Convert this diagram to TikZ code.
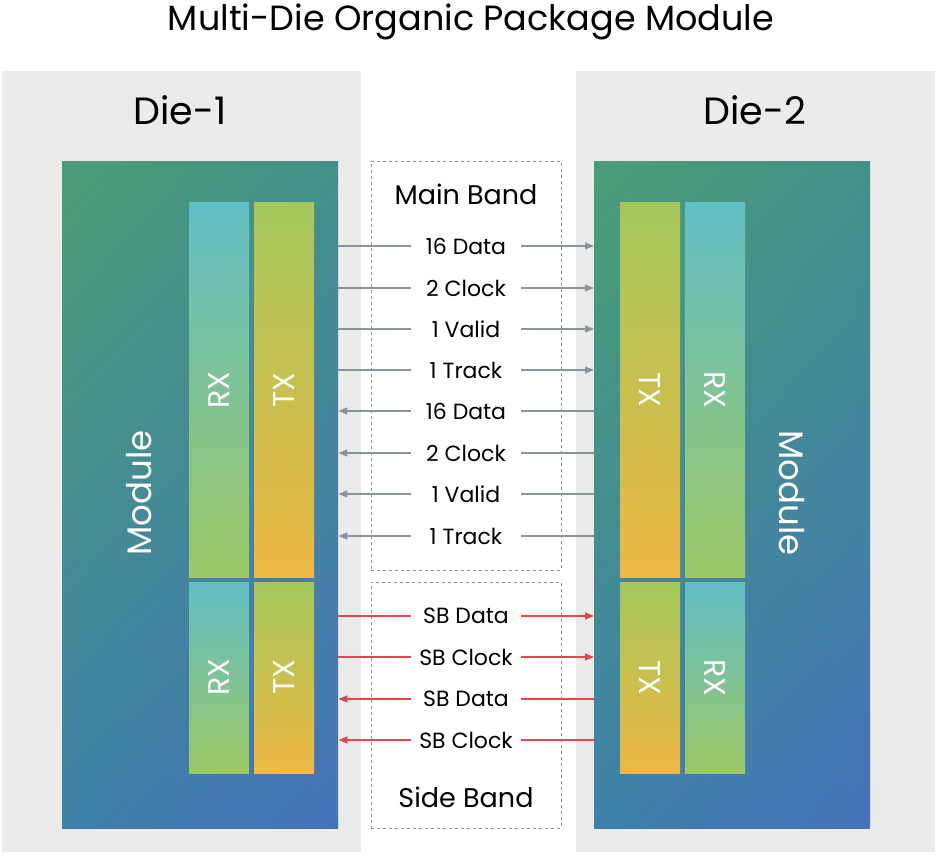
\documentclass[tikz,border=0pt]{standalone}
\usepackage{graphicx}
\usepackage{fontspec}
\setmainfont{Poppins}
\usepackage{xcolor}
\usetikzlibrary{arrows.meta,shadings}
\definecolor{panel}{HTML}{EBEBEA}
\definecolor{sigc}{HTML}{8C949B}
\definecolor{sbc}{HTML}{E4464B}
\definecolor{modul}{RGB}{74,158,116}
\definecolor{modur}{RGB}{67,145,138}
\definecolor{modll}{RGB}{63,128,168}
\definecolor{modlr}{RGB}{68,114,185}
\definecolor{rxtop}{RGB}{99,190,197}
\definecolor{rxbot}{RGB}{156,200,102}
\definecolor{txtop}{RGB}{165,200,91}
\definecolor{txbot}{RGB}{238,184,67}
\tikzset{
  die/.style={fill=panel,draw=none,inner sep=0,anchor=north west,minimum width=359pt,minimum height=781pt},
  mod/.style={inner sep=0,anchor=north west,minimum width=276pt,minimum height=667pt,
    upper left=modul,upper right=modur,lower left=modll,lower right=modlr},
  rx/.style={inner sep=0,minimum width=60pt,text=white,top color=rxtop,bottom color=rxbot},
  tx/.style={inner sep=0,minimum width=60pt,text=white,top color=txtop,bottom color=txbot},
  band/.style={draw=gray!85,dash pattern=on 3pt off 3pt,line width=0.8pt,anchor=north west,minimum width=190pt,inner sep=0},
  lbl/.style={inner sep=0,minimum width=110pt,font=\fontsize{22}{26}\selectfont},
  sig/.style={draw=sigc,line width=1.4pt},
  sb/.style={draw=sbc,line width=1.4pt},
  tip/.style={-{Triangle[length=9pt,width=7pt]}}
}
\begin{document}
\begin{tikzpicture}[x=1pt,y=-1pt]
\useasboundingbox (0,0) rectangle (938,856);
\node[font=\fontsize{35}{40}\selectfont] (title) at (471,22) {Multi-Die Organic Package Module};
% dies
\node[die] (die1) at (2,71) {};
\node[die] (die2) at (576,71) {};
\node[font=\fontsize{38}{44}\selectfont] (n1) at (180,110) {Die-1};
\node[font=\fontsize{38}{44}\selectfont] (n2) at (755,110) {Die-2};
% modules
\node[mod] (m1) at (62,161) {};
\node[mod] (m2) at (594,161) {};
\node[text=white,font=\fontsize{34}{40}\selectfont] (t1) at (139,493) {\rotatebox{90}{Module}};
\node[text=white,font=\fontsize{34}{40}\selectfont] (t2) at (792,493) {\rotatebox{-90}{Module}};
% lanes, die-1
\node[rx,minimum height=374pt,font=\fontsize{30}{36}\selectfont] (rx1) at (219,390) {\rotatebox{90}{RX}};
\node[tx,minimum height=374pt,font=\fontsize{30}{36}\selectfont] (tx1) at (284,390) {\rotatebox{90}{TX}};
\node[rx,minimum height=191pt,font=\fontsize{30}{36}\selectfont] (srx1) at (219,677.5) {\rotatebox{90}{RX}};
\node[tx,minimum height=191pt,font=\fontsize{30}{36}\selectfont] (stx1) at (284,677.5) {\rotatebox{90}{TX}};
% lanes, die-2
\node[tx,minimum height=374pt,font=\fontsize{30}{36}\selectfont] (tx2) at (650,390) {\rotatebox{-90}{TX}};
\node[rx,minimum height=374pt,font=\fontsize{30}{36}\selectfont] (rx2) at (715,390) {\rotatebox{-90}{RX}};
\node[tx,minimum height=191pt,font=\fontsize{30}{36}\selectfont] (stx2) at (650,677.5) {\rotatebox{-90}{TX}};
\node[rx,minimum height=191pt,font=\fontsize{30}{36}\selectfont] (srx2) at (715,677.5) {\rotatebox{-90}{RX}};
% bands
\node[band,minimum height=409pt] (mb) at (371,161) {};
\node[band,minimum height=246pt] (sbb) at (371,582) {};
\node[font=\fontsize{27}{32}\selectfont] (mbl) at (466,194) {Main Band};
\node[font=\fontsize{27}{32}\selectfont] (sbl) at (466,797) {Side Band};
% signal labels
\node[lbl] (d1) at (466,246) {16 Data};
\node[lbl] (d2) at (466,288) {2 Clock};
\node[lbl] (d3) at (466,329) {1 Valid};
\node[lbl] (d4) at (466,370) {1 Track};
\node[lbl] (d5) at (466,411) {16 Data};
\node[lbl] (d6) at (466,453) {2 Clock};
\node[lbl] (d7) at (466,494) {1 Valid};
\node[lbl] (d8) at (466,536) {1 Track};
\node[lbl] (s1) at (466,616) {SB Data};
\node[lbl] (s2) at (466,657) {SB Clock};
\node[lbl] (s3) at (466,699) {SB Data};
\node[lbl] (s4) at (466,740) {SB Clock};
% die-1 to die-2
\foreach \n in {d1,d2,d3,d4} {\draw[sig] (m1.east |- \n) -- (\n.west); \draw[sig,tip] (\n.east) -- (m2.west |- \n);}
\foreach \n in {s1,s2} {\draw[sb] (m1.east |- \n) -- (\n.west); \draw[sb,tip] (\n.east) -- (m2.west |- \n);}
% die-2 to die-1
\foreach \n in {d5,d6,d7,d8} {\draw[sig,tip] (\n.west) -- (m1.east |- \n); \draw[sig] (m2.west |- \n) -- (\n.east);}
\foreach \n in {s3,s4} {\draw[sb,tip] (\n.west) -- (m1.east |- \n); \draw[sb] (m2.west |- \n) -- (\n.east);}
\end{tikzpicture}
\end{document}
